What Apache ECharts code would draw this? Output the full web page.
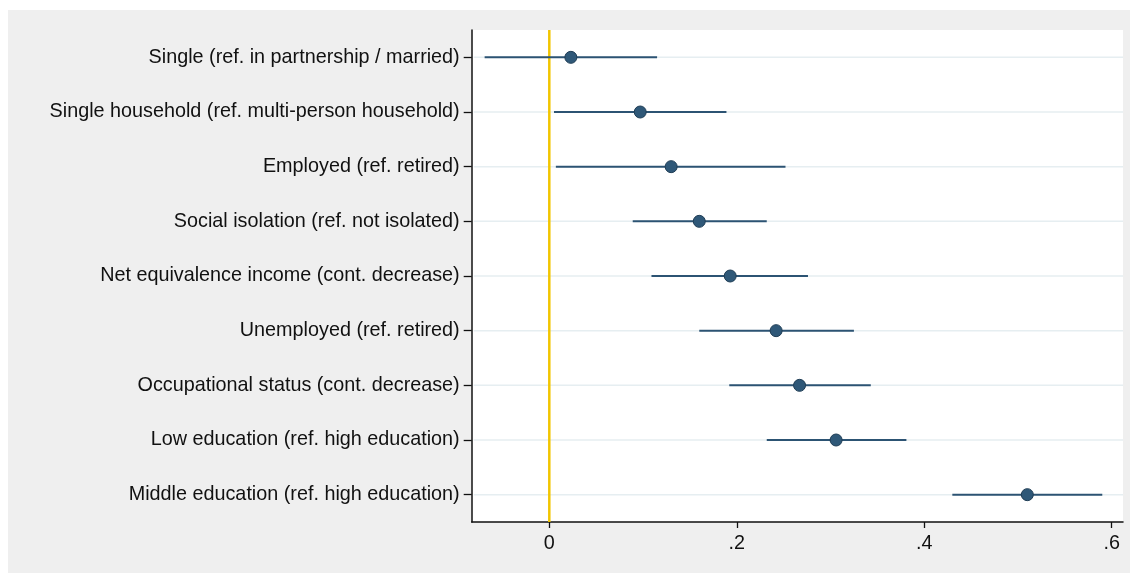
<!DOCTYPE html>
<html>
<head>
<meta charset="utf-8">
<script src="https://cdn.jsdelivr.net/npm/echarts@6/dist/echarts.min.js"></script>
<style>
html,body{margin:0;padding:0;background:#ffffff;}
#wrap{position:absolute;left:8px;top:10px;width:1122px;height:563px;background:#efefef;}
#chart{position:absolute;left:0;top:0;width:1130px;height:573px;}
</style>
</head>
<body>
<div id="wrap"></div>
<div id="chart"></div>
<script>
const categories = [
  "Single (ref. in partnership / married)",
  "Single household (ref. multi-person household)",
  "Employed (ref. retired)",
  "Social isolation (ref. not isolated)",
  "Net equivalence income (cont. decrease)",
  "Unemployed (ref. retired)",
  "Occupational status (cont. decrease)",
  "Low education (ref. high education)",
  "Middle education (ref. high education)"
];
const estimates = [0.023, 0.097, 0.130, 0.160, 0.193, 0.242, 0.267, 0.306, 0.510];
const ciLower  = [-0.069, 0.005, 0.007, 0.089, 0.109, 0.160, 0.192, 0.232, 0.430];
const ciUpper  = [0.115, 0.189, 0.252, 0.232, 0.276, 0.325, 0.343, 0.381, 0.590];
const xTickValues = [0, 0.2, 0.4, 0.6];
const xTickLabels = ["0", ".2", ".4", ".6"];

const chart = echarts.init(document.getElementById('chart'), null, {renderer:'canvas'});
const font = "'Liberation Sans', Arial, Helvetica, sans-serif";
const markColor = '#2c5373';

chart.setOption({
  backgroundColor: 'transparent',
  animation: false,
  grid: {left: 471.7, right: 7, top: 30, bottom: 51, containLabel: false, show: true, backgroundColor: '#ffffff', borderWidth: 0},
  xAxis: {
    type: 'value',
    min: -0.0828,
    max: 0.6121,
    axisLine: {show: true, onZero: false, lineStyle: {color: '#111', width: 1.5}},
    axisTick: {show: true, length: 6, customValues: xTickValues, lineStyle: {color: '#111', width: 1.3}},
    axisLabel: {
      show: true, customValues: xTickValues, margin: 12,
      color: '#111', fontFamily: font, fontSize: 19.8,
      formatter: function (v) { const i = xTickValues.findIndex(t => Math.abs(t - v) < 1e-9); return i >= 0 ? xTickLabels[i] : ''; }
    },
    splitLine: {show: false}
  },
  yAxis: {
    type: 'category',
    data: categories,
    inverse: true,
    boundaryGap: true,
    axisLine: {show: true, onZero: false, lineStyle: {color: '#111', width: 1.5}},
    axisTick: {show: true, alignWithLabel: true, length: 8, lineStyle: {color: '#111', width: 1.3}},
    axisLabel: {color: '#111', fontFamily: font, fontSize: 19.8, margin: 12},
    splitLine: {show: false}
  },
  series: [
    {
      type: 'custom',
      name: 'grid',
      silent: true,
      z: 1,
      data: categories.map((c, i) => [i]),
      renderItem: function (params, api) {
        const y = api.coord([0, api.value(0)])[1];
        const cs = params.coordSys;
        return {type: 'line', shape: {x1: cs.x + 2, y1: y, x2: cs.x + cs.width, y2: y},
                style: {stroke: '#e6eef1', lineWidth: 1.5}};
      }
    },
    {
      type: 'custom',
      name: 'zero',
      silent: true,
      z: 2,
      data: [[0]],
      renderItem: function (params, api) {
        const x = api.coord([api.value(0), 0])[0];
        const cs = params.coordSys;
        return {type: 'line', shape: {x1: x, y1: cs.y, x2: x, y2: cs.y + cs.height},
                style: {stroke: '#f2c500', lineWidth: 2.5}};
      }
    },
    {
      type: 'custom',
      name: 'ci',
      silent: true,
      z: 3,
      data: categories.map((c, i) => [ciLower[i], ciUpper[i], i]),
      encode: {x: [0, 1], y: 2},
      renderItem: function (params, api) {
        const p1 = api.coord([api.value(0), api.value(2)]);
        const p2 = api.coord([api.value(1), api.value(2)]);
        return {type: 'line', shape: {x1: p1[0], y1: p1[1], x2: p2[0], y2: p2[1]},
                style: {stroke: markColor, lineWidth: 2}};
      }
    },
    {
      type: 'scatter',
      name: 'estimate',
      z: 4,
      symbol: 'circle',
      symbolSize: 12,
      itemStyle: {color: '#2f5878', borderColor: '#1f3d55', borderWidth: 1, opacity: 1},
      data: categories.map((c, i) => [estimates[i], c])
    }
  ]
});
</script>
</body>
</html>
